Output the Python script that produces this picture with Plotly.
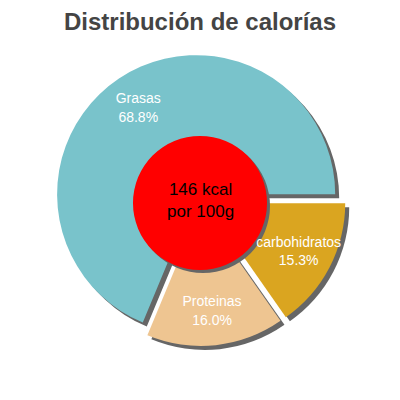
import plotly.graph_objects as go

# slices listed clockwise starting from 3 o'clock
labels = ["carbohidratos", "Proteinas", "Grasas"]
values = [15.3, 16.0, 68.8]
colors = ["#daa520", "#eec591", "#79c3cb"]
title = "Distribución de calorías"
center_text = "146 kcal<br>por 100g"

W, H = 400, 400
OFF = 8  # the html page adds an 8px body margin
cx, cy, size = 200 - OFF, 200 - OFF, 292
shadow = 4
pull = [0.05, 0.05, 0.05]
SHADOW = "#666666"


def dom(x, y, s):
    return dict(x=[(x - s / 2) / W, (x + s / 2) / W],
                y=[1 - (y + s / 2) / H, 1 - (y - s / 2) / H])


common = dict(labels=labels, values=values, sort=False, direction="clockwise",
              rotation=90, pull=pull, showlegend=False)

fig = go.Figure()

# drop shadow of the pie
fig.add_trace(go.Pie(**common, domain=dom(cx + shadow, cy + shadow, size),
                     marker=dict(colors=[SHADOW] * 3, line=dict(width=0)),
                     textinfo="none", hoverinfo="skip"))
# the pie itself
fig.add_trace(go.Pie(**common, domain=dom(cx, cy, size),
                     marker=dict(colors=colors, line=dict(width=0)),
                     textinfo="none"))

# red centre disc with its shadow
r = 67
rcx, rcy = cx, cy + 3
fig.add_trace(go.Pie(values=[1], domain=dom(rcx + 3, rcy + 3, 2 * r),
                     marker=dict(colors=[SHADOW], line=dict(width=0)),
                     textinfo="none", hoverinfo="skip", showlegend=False))
fig.add_trace(go.Pie(values=[1], domain=dom(rcx, rcy, 2 * r),
                     marker=dict(colors=["#ff0000"], line=dict(width=0)),
                     textinfo="none", hoverinfo="skip", showlegend=False))

# slice labels on top of everything (transparent copy of the pie)
fig.add_trace(go.Pie(**common, domain=dom(cx, cy, size), hole=0.5,
                     marker=dict(colors=["rgba(0,0,0,0)"] * 3, line=dict(width=0)),
                     texttemplate="%{label}<br>%{value:.1f}%", textposition="inside",
                     insidetextorientation="horizontal",
                     insidetextfont=dict(color="white", size=14, family="Liberation Sans"),
                     hoverinfo="skip"))

fig.add_annotation(text=center_text, x=rcx / W, y=1 - (rcy - 2) / H,
                   xref="paper", yref="paper", showarrow=False,
                   font=dict(size=17, color="black", family="Liberation Sans"))

fig.update_layout(
    width=W, height=H, margin=dict(l=0, r=0, t=0, b=0),
    paper_bgcolor="white", plot_bgcolor="white",
    uniformtext=dict(minsize=14, mode="show"),
    title=dict(text="<b>" + title + "</b>", x=(200 - OFF) / W, xanchor="center",
               y=1 - (22 - OFF) / H, yanchor="middle",
               font=dict(size=24, color="#444444", family="Liberation Sans")),
)

fig.write_html("out.html")
